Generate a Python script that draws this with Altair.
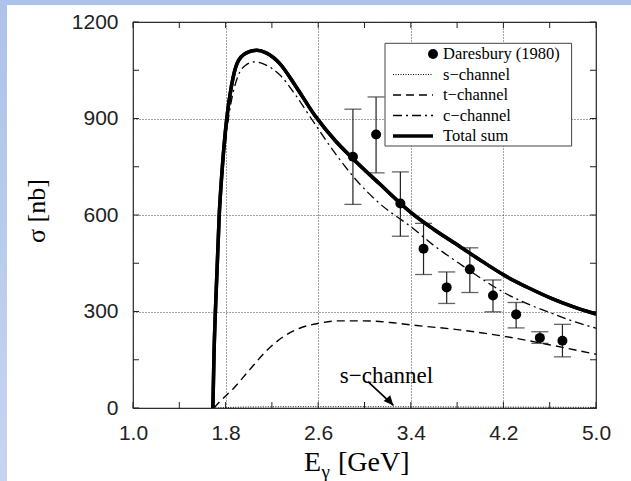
import altair as alt
import pandas as pd

# ---------------- data ----------------
E_total = [1.69, 1.70, 1.715, 1.745, 1.77, 1.81, 1.85, 1.90, 1.98, 2.07, 2.15, 2.27, 2.41, 2.57,
           2.75, 2.90, 3.13, 3.41, 3.60, 3.82, 4.02, 4.22, 4.42, 4.62, 4.80, 5.00]
S_total = [0, 170, 330, 600, 740, 900, 1000, 1072, 1104, 1112, 1104, 1070, 998, 910,
           830, 775, 697, 605, 555, 503, 455, 410, 373, 340, 315, 292]

E_c = [1.69, 1.70, 1.715, 1.745, 1.77, 1.81, 1.85, 1.90, 1.97, 2.05, 2.15, 2.27, 2.41, 2.54,
       2.75, 2.93, 3.13, 3.41, 3.60, 3.82, 4.02, 4.22, 4.42, 4.62, 4.80, 5.00]
S_c = [0, 160, 310, 575, 710, 860, 955, 1025, 1065, 1076, 1066, 1035, 970, 900,
       790, 708, 636, 561, 505, 449, 400, 356, 322, 294, 270, 248]

E_t = [1.70, 1.75, 1.866, 2.01, 2.154, 2.30, 2.44, 2.60, 2.79, 2.99, 3.22, 3.41, 3.82, 4.22, 4.62, 5.00]
S_t = [0, 20, 60, 120, 178, 222, 248, 263, 271, 271, 266, 258, 243, 222, 195, 167]

E_s = [1.69, 2.0, 2.5, 3.0, 3.5, 4.0, 4.5, 5.0]
S_s = [0, 3, 4, 4, 3.5, 3, 2.5, 2]

E_data = [2.90, 3.10, 3.31, 3.51, 3.71, 3.91, 4.11, 4.31, 4.515, 4.71]
S_data = [781, 850, 636, 495, 375, 431, 350, 291, 218, 209]
S_hi = [929, 967, 734, 574, 423, 498, 398, 328, 237, 260]
S_lo = [633, 731, 534, 415, 325, 359, 299, 249, 201, 159]

x_label_values = [1.0, 1.8, 2.6, 3.4, 4.2, 5.0]
x_tick_values = [1.0, 1.4, 1.8, 2.2, 2.6, 3.0, 3.4, 3.8, 4.2, 4.6, 5.0]
y_label_values = [0, 300, 600, 900, 1200]
y_tick_values = [0, 150, 300, 450, 600, 750, 900, 1050, 1200]

legend_labels = ["Daresbury (1980)", "s\u2212channel", "t\u2212channel", "c\u2212channel", "Total sum"]
annot_text = "s\u2212channel"
arrow_E = [3.03, 3.25]
arrow_S = [82, 8]
annot_E = 3.19
annot_S = 99

# ---------------- layout ----------------
W, H = 463, 386
SERIF = "Liberation Serif"
SANS = "Liberation Sans"

xs = alt.Scale(domain=[1.0, 5.0], nice=False, zero=False)
ys = alt.Scale(domain=[0, 1200], nice=False, zero=True)

one = pd.DataFrame({"a": [0]})

def curve(E, S, dash, width):
    df = pd.DataFrame({"E": E, "S": S})
    kw = dict(color="black", strokeWidth=width, interpolate="monotone", clip=True)
    if dash:
        kw["strokeDash"] = dash
    return alt.Chart(df).mark_line(**kw).encode(
        x=alt.X("E:Q", scale=xs,
                axis=alt.Axis(values=x_label_values, format=".1f", title=None, ticks=False, tickSize=0,
                              domain=False, grid=True, labelPadding=14, labelFlush=False)),
        y=alt.Y("S:Q", scale=ys,
                axis=alt.Axis(values=y_label_values, format="d", title=None, ticks=False, tickSize=0,
                              domain=False, grid=True, labelPadding=15, labelFlush=False)),
    )

# background frame (light-blue band on the left and top)
bg_left = alt.Chart(one).mark_rect(
    color=alt.Gradient(gradient="linear", stops=[alt.GradientStop(color="#adc2ea", offset=0),
                                                 alt.GradientStop(color="#c6d5ef", offset=1)],
                       x1=0, x2=0, y1=0, y2=1)
).encode(x=alt.value(-133), x2=alt.value(-126), y=alt.value(-22), y2=alt.value(459))
bg_top = alt.Chart(one).mark_rect(color="#aec3ea").encode(
    x=alt.value(-133), x2=alt.value(498), y=alt.value(-22), y2=alt.value(-17))

# inward ticks on all four sides
xt = pd.DataFrame({"E": x_tick_values})
yt = pd.DataFrame({"S": y_tick_values})
tick_style = dict(color="#222", strokeWidth=1)
ticks = [
    alt.Chart(xt).mark_rule(**tick_style).encode(x=alt.X("E:Q", scale=xs), y=alt.value(H), y2=alt.value(H - 6)),
    alt.Chart(xt).mark_rule(**tick_style).encode(x=alt.X("E:Q", scale=xs), y=alt.value(0), y2=alt.value(6)),
    alt.Chart(yt).mark_rule(**tick_style).encode(y=alt.Y("S:Q", scale=ys), x=alt.value(0), x2=alt.value(6)),
    alt.Chart(yt).mark_rule(**tick_style).encode(y=alt.Y("S:Q", scale=ys), x=alt.value(W), x2=alt.value(W - 6)),
]

# curves
total = curve(E_total, S_total, None, 3.5)
cchan = curve(E_c, S_c, [9, 4, 2, 4], 1.3)
tchan = curve(E_t, S_t, [8, 5], 1.4)
schan = curve(E_s, S_s, [1, 1.5], 1.0)

# data with error bars
dd = pd.DataFrame({"E": E_data, "S": S_data, "hi": S_hi, "lo": S_lo})
err = alt.Chart(dd).mark_rule(color="#222", strokeWidth=1.2).encode(
    x=alt.X("E:Q", scale=xs), y=alt.Y("lo:Q", scale=ys), y2="hi:Q")
cap_hi = alt.Chart(dd).mark_tick(color="#222", orient="horizontal", size=17, thickness=1.3).encode(
    x=alt.X("E:Q", scale=xs), y=alt.Y("hi:Q", scale=ys))
cap_lo = alt.Chart(dd).mark_tick(color="#222", orient="horizontal", size=17, thickness=1.3).encode(
    x=alt.X("E:Q", scale=xs), y=alt.Y("lo:Q", scale=ys))
pts = alt.Chart(dd).mark_circle(color="black", size=100, opacity=1).encode(
    x=alt.X("E:Q", scale=xs), y=alt.Y("S:Q", scale=ys))

# annotation: s-channel with arrow
ad = pd.DataFrame({"E": [arrow_E[0]], "E2": [arrow_E[1]], "S": [arrow_S[0]], "S2": [arrow_S[1]]})
arrow_line = alt.Chart(ad).mark_rule(color="black", strokeWidth=1.7).encode(
    x=alt.X("E:Q", scale=xs), x2="E2:Q", y=alt.Y("S:Q", scale=ys), y2="S2:Q")
arrow_head = alt.Chart(ad).mark_point(shape="M0,0L0.45,1L-0.45,1Z", filled=True, color="black",
                                      size=380, angle=138, opacity=1).encode(
    x=alt.X("E2:Q", scale=xs), y=alt.Y("S2:Q", scale=ys))
annot = alt.Chart(pd.DataFrame({"E": [annot_E], "S": [annot_S], "t": [annot_text]})).mark_text(
    font=SERIF, fontSize=23, color="black", align="center", baseline="middle").encode(
    x=alt.X("E:Q", scale=xs), y=alt.Y("S:Q", scale=ys), text="t:N")

# legend (drawn by hand)
LX0, LX1 = 252, 438.6
LY0, LY1 = 21.3, 124
rows_y = [32, 52.5, 73, 93.5, 114]
legend_box = alt.Chart(one).mark_rect(fill="white", stroke="#444", strokeWidth=1).encode(
    x=alt.value(LX0), x2=alt.value(LX1), y=alt.value(LY0), y2=alt.value(LY1))
legend_text = alt.Chart(pd.DataFrame({"t": legend_labels, "y": rows_y})).mark_text(
    font=SERIF, fontSize=16.5, color="black", align="left", baseline="middle").encode(
    x=alt.value(310), y=alt.Y("y:Q", scale=None), text="t:N")
legend_dot = alt.Chart(one).mark_circle(color="black", size=100, opacity=1).encode(
    x=alt.value(300), y=alt.value(rows_y[0]))
sym_styles = [([1, 1.5], 1.0), ([8, 5], 1.4), ([9, 4, 2, 4], 1.3), (None, 3.5)]
legend_syms = []
for (dash, w), yy in zip(sym_styles, rows_y[1:]):
    kw = dict(color="black", strokeWidth=w)
    if dash:
        kw["strokeDash"] = dash
    legend_syms.append(alt.Chart(one).mark_rule(**kw).encode(
        x=alt.value(260), x2=alt.value(300), y=alt.value(yy)))

# axis titles (text marks, to allow the subscript)
ytitle = alt.Chart(one).mark_text(font=SERIF, fontSize=26, angle=270, align="center",
                                  baseline="middle", color="black").encode(
    x=alt.value(-96), y=alt.value(189), text=alt.value("\u03c3 [nb]"))
xt_E = alt.Chart(one).mark_text(font=SERIF, fontSize=28, align="left", baseline="alphabetic",
                                color="black").encode(x=alt.value(171), y=alt.value(449), text=alt.value("E"))
xt_g = alt.Chart(one).mark_text(font=SERIF, fontSize=19, align="left", baseline="alphabetic",
                                color="black").encode(x=alt.value(188.5), y=alt.value(456), text=alt.value("\u03b3"))
xt_u = alt.Chart(one).mark_text(font=SERIF, fontSize=28, align="left", baseline="alphabetic",
                                color="black").encode(x=alt.value(205), y=alt.value(449), text=alt.value("[GeV]"))

chart = alt.layer(
    total, bg_left, bg_top, *ticks, tchan, schan, cchan, err, cap_hi, cap_lo, pts, total.mark_line(
        color="black", strokeWidth=3.5, interpolate="monotone", clip=True),
    arrow_line, arrow_head, annot,
    legend_box, legend_text, legend_dot, *legend_syms,
    ytitle, xt_E, xt_g, xt_u,
).properties(
    width=W, height=H,
    autosize=alt.AutoSizeParams(type="none"),
    padding={"left": 133, "top": 22, "right": 35, "bottom": 73},
    background="white",
).configure_view(
    stroke="#222", strokeWidth=1.2
).configure_axis(
    labelFont=SANS, labelFontSize=21, labelColor="#222",
    gridColor="#444", gridDash=[1, 2], gridWidth=1, gridOpacity=1,
)

chart.save("out.html", embed_options={"renderer": "svg", "actions": False})
